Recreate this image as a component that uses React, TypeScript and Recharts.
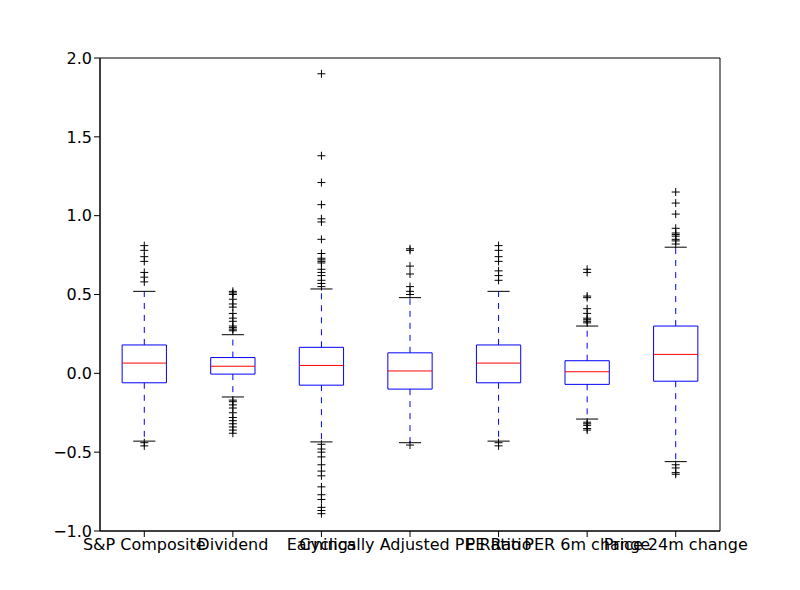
import React from "react";
import { ComposedChart, XAxis, YAxis, Scatter, ReferenceArea, ReferenceLine } from "recharts";

const categories = ["S&P Composite", "Dividend", "Earnings", "Cyclically Adjusted PE Ratio", "PE Ratio", "PER 6m change", "Price 24m change"];
const q1 = [-0.06, -0.005, -0.075, -0.1, -0.06, -0.07, -0.05];
const q3 = [0.18, 0.1, 0.165, 0.13, 0.18, 0.08, 0.3];
const medians = [0.065, 0.045, 0.05, 0.015, 0.065, 0.01, 0.12];
const whiskerLow = [-0.43, -0.15, -0.435, -0.44, -0.43, -0.29, -0.56];
const whiskerHigh = [0.52, 0.245, 0.535, 0.48, 0.52, 0.3, 0.8];
const outliers: number[][] = [
  [0.81, 0.78, 0.74, 0.71, 0.64, 0.61, 0.58, -0.44, -0.46],
  [0.27, 0.28, 0.29, 0.3, 0.33, 0.35, 0.38, 0.42, 0.44, 0.47, 0.5, 0.51, 0.52, -0.17, -0.18, -0.2, -0.22, -0.25, -0.28, -0.3, -0.32, -0.34, -0.36, -0.38],
  [0.55, 0.57, 0.59, 0.62, 0.64, 0.66, 0.7, 0.71, 0.72, 0.73, 0.76, 0.85, 0.96, 0.98, 1.07, 1.21, 1.38, 1.9, -0.45, -0.48, -0.5, -0.53, -0.58, -0.62, -0.65, -0.72, -0.77, -0.8, -0.85, -0.87, -0.89],
  [0.5, 0.52, 0.55, 0.63, 0.68, 0.78, 0.79, -0.455],
  [0.81, 0.78, 0.74, 0.71, 0.65, 0.62, 0.59, -0.44, -0.46],
  [0.32, 0.33, 0.34, 0.35, 0.38, 0.41, 0.48, 0.49, 0.64, 0.66, -0.31, -0.32, -0.33, -0.35, -0.36],
  [0.82, 0.84, 0.85, 0.87, 0.88, 0.89, 0.92, 1.01, 1.08, 1.15, -0.58, -0.6, -0.63, -0.64],
];
const yTicks = [-1, -0.5, 0, 0.5, 1, 1.5, 2];

const outlierData = outliers.flatMap((arr, i) => arr.map((v) => ({ x: i + 1, y: v })));

const Plus = (p: any) => (
  <path d={`M${p.cx - 4},${p.cy}H${p.cx + 4}M${p.cx},${p.cy - 4}V${p.cy + 4}`} stroke="#000" strokeWidth={1} fill="none" />
);

const fmt = (v: number) => (v < 0 ? "\u2212" + Math.abs(v).toFixed(1) : v.toFixed(1));

export default function App() {
  const font = { fontFamily: "DejaVu Sans", fontSize: 16, fill: "#000" };
  return (
    <div style={{ position: "absolute", left: 0, top: 0, background: "#fff" }}>
      <ComposedChart width={800} height={590} margin={{ top: 58, right: 80, bottom: 0, left: 0 }}>
        <XAxis type="number" dataKey="x" domain={[0.5, 7.5]} ticks={[1, 2, 3, 4, 5, 6, 7]} allowDataOverflow
          tickFormatter={(v: number) => categories[v - 1]} height={59} tick={font} stroke="#000" tickSize={6} interval={0} />
        <YAxis type="number" dataKey="y" domain={[-1, 2]} ticks={yTicks} allowDataOverflow width={100}
          tickFormatter={fmt} tick={font} stroke="#000" tickSize={6} />
        <ReferenceArea x1={0.5} x2={7.5} y1={-1} y2={2} fill="none" stroke="#000" strokeWidth={1} ifOverflow="visible" />
        {categories.map((_, i) => {
          const x = i + 1;
          return (
            <React.Fragment key={i}>
              <ReferenceLine segment={[{ x, y: q3[i] }, { x, y: whiskerHigh[i] }]} stroke="#0000ff" strokeDasharray="6 6" />
              <ReferenceLine segment={[{ x, y: q1[i] }, { x, y: whiskerLow[i] }]} stroke="#0000ff" strokeDasharray="6 6" />
              <ReferenceLine segment={[{ x: x - 0.125, y: whiskerHigh[i] }, { x: x + 0.125, y: whiskerHigh[i] }]} stroke="#000" />
              <ReferenceLine segment={[{ x: x - 0.125, y: whiskerLow[i] }, { x: x + 0.125, y: whiskerLow[i] }]} stroke="#000" />
              <ReferenceArea x1={x - 0.25} x2={x + 0.25} y1={q1[i]} y2={q3[i]} fill="none" fillOpacity={0} stroke="#0000ff" strokeOpacity={1} />
              <ReferenceLine segment={[{ x: x - 0.25, y: medians[i] }, { x: x + 0.25, y: medians[i] }]} stroke="#ff0000" />
            </React.Fragment>
          );
        })}
        <Scatter data={outlierData} shape={Plus} isAnimationActive={false} />
      </ComposedChart>
    </div>
  );
}
